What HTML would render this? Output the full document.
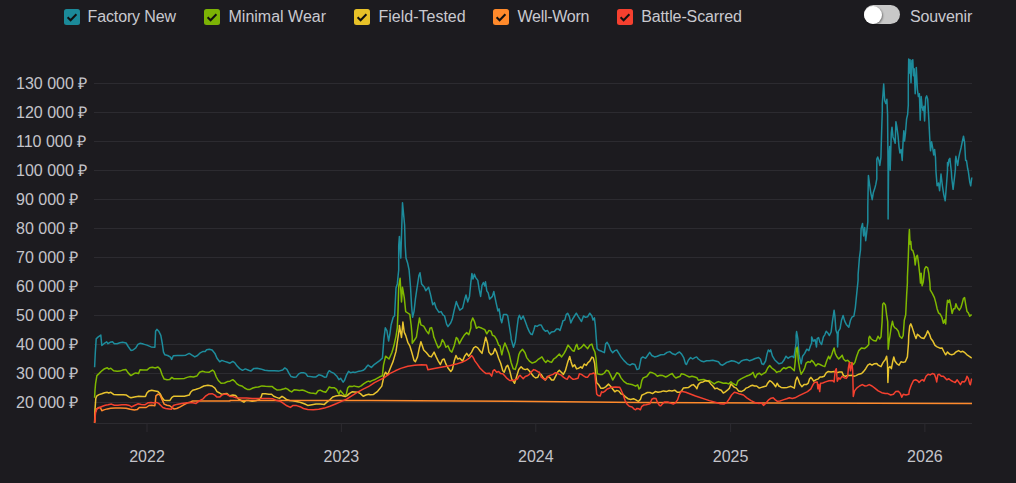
<!DOCTYPE html>
<html><head><meta charset="utf-8"><title>chart</title>
<style>
html,body{margin:0;padding:0;background:#1c1b1f;}
body{width:1016px;height:483px;position:relative;overflow:hidden;font-family:"Liberation Sans",sans-serif;color:#c9c9cf;}
#chart{position:absolute;left:0;top:0;}
.yl{position:absolute;left:16px;font-size:16px;line-height:20px;white-space:nowrap;color:#c4c4ca;}
.xl{position:absolute;top:447px;width:80px;text-align:center;font-size:16px;line-height:20px;color:#c4c4ca;}
.cb{position:absolute;top:9px;width:16px;height:16px;border-radius:2.5px;}
.cb svg{display:block}
.lt{position:absolute;top:7px;font-size:16px;letter-spacing:-0.12px;line-height:20px;white-space:nowrap;color:#c9c9cf;}
.tg{position:absolute;left:864px;top:5px;width:36px;height:19px;border-radius:10px;background:#c8c8c8;}
.kn{position:absolute;left:0;top:0.5px;width:18px;height:18px;border-radius:9px;background:#fff;box-shadow:1px 1px 2px rgba(0,0,0,.4);}
</style></head><body>
<svg id="chart" width="1016" height="483" viewBox="0 0 1016 483"><line x1="94" x2="972" y1="83.5" y2="83.5" stroke="#2c2b30" stroke-width="1"/><line x1="94" x2="972" y1="112.5" y2="112.5" stroke="#2c2b30" stroke-width="1"/><line x1="94" x2="972" y1="141.5" y2="141.5" stroke="#2c2b30" stroke-width="1"/><line x1="94" x2="972" y1="170.5" y2="170.5" stroke="#2c2b30" stroke-width="1"/><line x1="94" x2="972" y1="199.5" y2="199.5" stroke="#2c2b30" stroke-width="1"/><line x1="94" x2="972" y1="228.5" y2="228.5" stroke="#2c2b30" stroke-width="1"/><line x1="94" x2="972" y1="257.5" y2="257.5" stroke="#2c2b30" stroke-width="1"/><line x1="94" x2="972" y1="286.5" y2="286.5" stroke="#2c2b30" stroke-width="1"/><line x1="94" x2="972" y1="315.5" y2="315.5" stroke="#2c2b30" stroke-width="1"/><line x1="94" x2="972" y1="344.5" y2="344.5" stroke="#2c2b30" stroke-width="1"/><line x1="94" x2="972" y1="373.5" y2="373.5" stroke="#2c2b30" stroke-width="1"/><line x1="94" x2="972" y1="402.5" y2="402.5" stroke="#2c2b30" stroke-width="1"/><line x1="94.5" x2="972" y1="423.5" y2="423.5" stroke="#2c2b30" stroke-width="1"/><line x1="147" x2="147" y1="423" y2="432" stroke="#2c2b30" stroke-width="1"/><line x1="341.4" x2="341.4" y1="423" y2="432" stroke="#2c2b30" stroke-width="1"/><line x1="535.8" x2="535.8" y1="423" y2="432" stroke="#2c2b30" stroke-width="1"/><line x1="730.6" x2="730.6" y1="423" y2="432" stroke="#2c2b30" stroke-width="1"/><line x1="924.9" x2="924.9" y1="423" y2="432" stroke="#2c2b30" stroke-width="1"/><path d="M94.6 367.3 L95.3 352.8 L96.2 338.9 L98.3 336.8 L100.8 335.0 L101.8 345.5 L103.9 343.7 L106.7 341.9 L108.0 343.7 L110.1 342.3 L112.5 341.7 L114.3 343.7 L117.1 343.7 L119.8 342.8 L122.6 342.3 L126.1 343.0 L128.2 346.5 L130.9 350.4 L133.0 350.0 L135.8 347.9 L137.9 344.4 L140.0 343.3 L143.4 344.1 L146.9 345.1 L151.1 346.9 L154.9 347.2 L155.6 331.2 L156.9 329.4 L158.7 331.2 L160.8 335.4 L162.2 343.0 L163.5 352.1 L164.9 354.8 L167.7 355.5 L170.5 357.2 L171.6 359.4 L173.3 355.8 L177.4 355.5 L182.3 355.5 L185.7 355.2 L189.2 353.4 L192.0 355.2 L194.8 356.9 L197.5 355.5 L200.3 352.8 L203.1 351.4 L205.2 351.4 L206.6 349.7 L209.3 349.3 L212.1 350.0 L214.9 353.4 L217.0 358.3 L219.7 361.8 L221.8 360.4 L224.6 361.4 L227.4 362.2 L230.0 363.2 L232.8 361.4 L234.9 362.8 L236.9 365.8 L239.7 368.6 L242.5 370.3 L245.3 368.9 L248.0 370.0 L250.8 371.1 L253.6 368.6 L257.1 368.3 L260.5 368.9 L264.7 370.3 L268.9 370.7 L274.4 370.7 L278.6 371.1 L282.7 370.0 L284.8 367.9 L286.9 369.3 L289.0 373.4 L291.1 376.6 L293.8 377.2 L296.3 376.9 L298.7 373.9 L300.8 372.8 L303.5 372.8 L305.6 373.4 L307.7 376.2 L310.5 376.6 L313.3 376.9 L316.0 376.9 L318.8 374.8 L321.6 375.5 L324.4 377.2 L326.4 376.9 L327.8 372.8 L329.2 370.7 L331.3 372.1 L334.1 373.4 L336.8 376.2 L338.9 379.7 L340.7 378.3 L343.1 382.2 L344.5 380.4 L346.6 374.8 L348.6 371.4 L350.7 372.8 L352.8 372.1 L354.9 372.5 L357.7 371.6 L360.4 371.1 L363.2 370.3 L365.3 368.6 L366.7 366.5 L368.1 365.1 L370.0 366.5 L371.4 367.4 L374.5 364.3 L379.7 360.6 L382.4 358.1 L383.9 338.9 L385.3 327.8 L386.9 330.6 L388.6 341.0 L390.0 333.3 L391.1 325.0 L393.2 317.2 L394.6 315.8 L396.0 288.0 L397.3 283.9 L398.7 270.0 L398.7 245.7 L399.4 236.4 L400.8 258.1 L402.5 202.8 L404.6 225.0 L405.2 245.7 L406.0 258.1 L407.7 263.3 L409.1 270.0 L410.5 286.7 L411.6 306.1 L412.6 317.2 L414.0 311.6 L415.4 299.1 L416.8 289.4 L418.9 275.6 L420.0 272.8 L421.6 283.9 L424.4 287.3 L425.8 290.8 L428.6 287.3 L430.6 295.0 L432.7 304.7 L434.4 302.6 L436.2 308.2 L439.0 312.3 L441.1 311.6 L443.1 315.1 L444.5 315.8 L446.6 324.1 L448.0 326.6 L450.8 322.7 L452.2 319.3 L454.2 310.2 L456.3 301.6 L457.7 305.4 L459.8 310.2 L462.6 308.2 L464.6 299.8 L466.0 295.0 L467.7 301.9 L469.5 296.4 L470.9 281.8 L471.9 273.5 L473.0 279.0 L474.4 274.2 L475.7 277.6 L477.8 280.4 L479.2 289.4 L480.6 296.4 L482.0 285.3 L483.4 282.5 L484.8 286.0 L485.5 281.8 L486.8 290.8 L488.2 292.9 L489.6 299.1 L492.4 296.4 L493.8 291.5 L495.9 301.9 L497.9 310.9 L499.1 308.9 L500.7 319.3 L501.8 322.7 L503.5 314.4 L506.3 314.4 L507.7 315.8 L509.7 328.3 L511.1 337.0 L511.1 338.9 L513.5 347.2 L515.3 341.7 L517.4 325.0 L517.4 325.0 L518.3 318.0 L519.4 315.3 L521.1 319.4 L523.2 316.0 L525.3 321.5 L527.3 327.1 L529.4 331.9 L530.8 334.0 L532.2 334.7 L533.9 329.8 L535.0 325.7 L537.1 326.4 L539.1 325.0 L541.2 325.0 L543.3 329.1 L545.4 331.2 L547.5 330.5 L549.5 334.0 L551.6 331.9 L554.4 331.6 L556.5 329.1 L558.6 329.1 L560.0 330.5 L562.0 324.3 L563.0 320.8 L564.8 320.1 L566.2 314.6 L567.6 313.2 L569.4 316.7 L570.8 322.9 L572.4 319.4 L574.5 316.0 L576.3 313.2 L578.3 316.7 L580.1 319.4 L581.5 321.5 L583.5 316.0 L585.6 317.3 L587.7 316.7 L589.8 313.2 L591.9 316.0 L593.0 320.1 L594.4 317.8 L595.3 325.0 L596.3 338.9 L597.1 348.6 L598.8 350.2 L601.6 351.3 L604.4 352.7 L605.7 343.7 L607.1 342.3 L608.8 345.1 L610.6 350.0 L612.7 352.7 L614.8 350.6 L616.8 350.0 L618.9 353.4 L621.0 356.9 L623.8 360.4 L627.2 363.8 L630.0 365.2 L632.1 363.8 L634.9 364.5 L637.0 369.6 L639.0 368.9 L641.1 358.3 L642.8 356.9 L645.6 358.3 L647.6 355.5 L649.7 352.4 L651.8 355.5 L654.6 356.9 L657.3 356.2 L660.8 354.8 L664.3 354.4 L667.1 352.4 L669.8 351.6 L672.6 353.8 L675.4 354.8 L677.5 353.0 L679.5 352.0 L681.6 354.1 L683.7 357.6 L685.5 363.8 L686.5 364.5 L688.3 360.3 L690.6 357.6 L692.7 359.0 L694.8 357.6 L696.6 356.9 L698.3 359.0 L701.1 361.0 L703.8 361.7 L706.6 360.8 L709.4 360.8 L712.8 360.3 L715.6 361.0 L718.4 361.7 L720.5 364.5 L722.6 365.2 L724.6 363.8 L726.7 362.4 L728.8 361.7 L731.6 360.8 L734.4 361.3 L737.1 362.4 L738.8 363.5 L741.3 361.0 L744.1 359.9 L746.8 359.4 L749.6 360.8 L752.4 359.7 L755.2 358.5 L758.6 357.6 L760.4 359.0 L761.8 363.8 L763.5 364.5 L765.6 361.0 L767.0 354.1 L768.3 349.9 L769.7 351.6 L770.7 349.9 L772.5 356.2 L774.6 359.7 L776.7 361.7 L778.8 363.8 L780.0 363.5 L781.8 363.1 L783.9 360.3 L786.0 356.2 L788.0 358.3 L790.1 356.9 L792.2 356.2 L793.9 357.6 L795.0 350.6 L796.1 343.0 L796.1 335.5 L796.6 331.6 L797.8 338.3 L798.4 347.0 L799.1 355.5 L801.2 363.8 L802.6 356.2 L804.7 353.4 L806.8 349.2 L808.9 350.6 L810.2 346.5 L811.6 343.0 L811.6 343.8 L811.6 336.9 L813.3 341.1 L815.1 339.7 L816.5 347.0 L817.2 338.3 L818.6 337.6 L820.0 342.4 L821.6 344.5 L823.4 336.9 L824.8 334.8 L826.2 331.3 L827.6 332.7 L829.4 335.5 L831.1 332.0 L832.4 321.6 L834.1 310.2 L834.9 316.1 L835.9 330.0 L837.3 334.1 L837.6 347.0 L838.3 331.3 L840.1 328.6 L841.5 320.2 L843.1 315.4 L844.6 320.9 L846.3 324.4 L848.8 327.2 L850.5 320.2 L851.9 317.2 L853.9 316.1 L855.3 307.8 L856.7 293.9 L858.1 280.0 L858.1 274.7 L859.4 258.1 L860.5 249.8 L861.1 228.9 L862.5 223.4 L863.6 235.9 L864.7 227.6 L865.7 240.7 L866.6 233.1 L867.8 222.0 L867.8 206.6 L868.4 175.4 L869.4 183.0 L870.8 192.8 L872.2 199.7 L873.3 192.8 L874.7 188.6 L875.8 184.4 L876.8 178.9 L876.8 159.1 L877.7 157.0 L878.9 160.5 L879.8 165.4 L880.9 157.7 L881.6 132.8 L882.3 110.6 L882.3 103.5 L883.7 84.1 L884.7 100.7 L885.8 103.5 L886.9 99.3 L887.6 115.0 L887.6 118.9 L888.1 172.0 L888.1 219.1 L888.6 165.0 L888.8 160.5 L889.7 146.6 L890.2 170.2 L891.3 132.8 L892.0 127.2 L893.0 136.9 L894.1 139.7 L895.2 143.2 L895.9 121.7 L896.9 127.2 L898.0 135.5 L899.0 146.6 L899.9 152.9 L901.1 149.4 L902.2 160.5 L903.1 141.1 L903.8 130.7 L904.5 141.1 L905.5 132.8 L906.6 118.9 L907.6 114.7 L908.3 105.0 L908.3 106.3 L908.3 82.7 L908.7 59.1 L909.4 73.0 L910.1 59.8 L911.0 82.7 L911.9 60.5 L912.8 59.8 L913.5 75.8 L914.2 68.8 L915.2 93.8 L916.3 67.4 L917.4 89.6 L918.4 96.6 L919.4 93.8 L920.2 120.3 L921.2 96.6 L922.1 106.4 L923.0 110.6 L923.9 106.3 L924.6 121.0 L925.7 98.0 L926.7 95.9 L927.7 99.3 L928.8 118.9 L929.9 141.1 L930.5 150.8 L931.6 141.8 L932.7 148.0 L933.7 155.0 L934.6 149.4 L935.5 157.7 L936.0 172.0 L936.0 171.9 L937.1 185.8 L938.5 183.0 L939.6 190.7 L941.0 174.0 L942.4 185.8 L943.8 194.8 L945.2 200.8 L946.6 183.0 L947.5 170.6 L947.5 162.6 L948.0 166.1 L948.9 159.8 L949.9 158.4 L950.7 166.1 L951.4 172.0 L951.7 177.5 L953.1 189.3 L954.5 177.5 L955.4 169.2 L955.4 160.5 L955.9 156.3 L956.6 160.5 L957.7 165.4 L958.6 158.4 L959.6 153.6 L961.0 148.0 L962.4 141.1 L963.5 136.2 L964.6 142.5 L965.6 160.5 L966.5 160.5 L967.7 168.8 L968.3 171.2 L969.7 181.7 L970.7 185.8 L971.8 177.5" fill="none" stroke="#1d8c9c" stroke-width="1.5" stroke-linejoin="round" stroke-linecap="butt"/><path d="M94.6 397.8 L95.0 390.2 L95.6 383.3 L96.9 375.6 L99.0 373.6 L101.8 370.8 L104.6 368.7 L107.3 367.7 L108.7 369.1 L110.8 368.3 L113.6 370.8 L117.1 371.2 L119.8 371.1 L122.6 370.1 L125.8 369.4 L128.2 372.9 L130.9 375.6 L133.7 373.8 L135.8 372.9 L138.6 373.6 L140.0 369.7 L143.4 370.1 L146.9 370.1 L149.7 367.7 L152.4 367.3 L155.2 368.0 L158.0 367.0 L160.1 369.1 L162.2 375.0 L164.2 379.1 L167.0 379.8 L169.8 379.4 L171.9 377.4 L173.9 378.8 L178.8 378.8 L184.4 378.4 L187.1 377.4 L189.9 376.6 L193.4 377.0 L196.8 376.1 L199.6 372.2 L202.4 371.2 L205.2 371.9 L209.3 372.2 L212.5 370.1 L214.2 371.5 L216.3 377.0 L218.3 380.5 L221.1 383.3 L224.6 383.0 L227.4 381.6 L230.0 381.2 L232.8 379.7 L234.9 381.4 L236.9 383.9 L239.0 385.2 L241.8 385.9 L244.6 388.0 L247.3 389.4 L250.1 389.4 L252.9 388.0 L255.7 387.3 L258.4 387.0 L261.9 385.9 L265.4 386.3 L268.9 386.6 L272.3 386.6 L274.4 388.3 L277.2 390.1 L280.6 389.7 L283.4 389.1 L285.5 388.3 L287.6 389.1 L289.7 390.8 L291.7 391.9 L294.1 389.7 L296.6 390.1 L299.4 390.5 L302.2 390.1 L304.9 390.8 L307.7 392.2 L310.5 392.9 L313.3 393.3 L316.0 393.8 L318.1 390.8 L320.2 390.1 L323.0 391.5 L325.7 392.2 L327.8 389.4 L329.2 387.0 L331.3 387.7 L334.1 387.7 L336.6 389.4 L338.9 394.3 L340.3 390.5 L342.4 392.9 L344.5 395.6 L346.3 394.3 L347.7 388.0 L349.3 386.3 L352.1 386.6 L354.2 385.9 L356.3 386.6 L359.0 386.9 L361.1 385.9 L363.9 383.6 L366.7 381.8 L368.8 381.1 L370.0 381.8 L371.4 380.9 L375.6 379.2 L379.7 376.8 L382.4 375.7 L383.5 365.2 L385.6 356.2 L389.0 359.0 L391.8 352.8 L393.9 345.8 L396.0 336.1 L397.3 327.8 L398.0 311.6 L398.7 286.7 L400.1 278.3 L401.5 301.9 L402.5 287.3 L404.3 297.8 L405.7 311.6 L407.8 313.0 L409.8 314.4 L411.2 325.5 L412.2 337.0 L412.2 343.3 L414.5 340.0 L416.4 337.2 L417.8 328.0 L419.5 317.9 L420.9 324.8 L423.7 326.2 L426.5 331.1 L428.6 333.8 L430.0 328.3 L431.6 327.6 L433.0 332.4 L433.8 337.0 L434.1 337.5 L436.2 343.0 L438.3 347.9 L440.4 345.8 L442.4 339.6 L444.1 342.3 L445.9 347.2 L448.0 345.8 L450.1 350.7 L451.9 352.1 L454.2 345.8 L456.3 337.5 L457.7 338.9 L459.4 343.7 L461.9 338.9 L464.6 334.7 L466.7 332.6 L468.8 334.7 L470.9 327.8 L470.9 322.7 L472.7 317.9 L474.4 321.3 L476.4 328.3 L478.5 326.9 L482.0 328.3 L484.8 329.7 L486.8 333.8 L488.9 330.4 L491.0 331.1 L492.4 335.2 L494.5 336.1 L496.6 339.6 L498.6 345.1 L500.0 345.8 L501.8 354.8 L503.5 347.2 L504.9 343.0 L507.0 347.9 L509.0 353.4 L511.1 362.5 L513.2 368.7 L515.3 369.4 L517.4 362.5 L518.8 354.8 L520.0 352.1 L522.5 349.3 L525.0 352.7 L526.7 357.6 L529.4 361.1 L532.2 363.1 L535.7 361.7 L537.8 359.7 L539.8 358.3 L541.9 356.9 L544.0 360.4 L545.8 362.4 L547.5 360.4 L549.5 361.7 L551.6 362.4 L553.7 359.0 L555.8 357.6 L557.9 355.5 L559.3 354.1 L561.6 356.9 L564.1 353.4 L566.2 349.3 L568.0 345.1 L570.4 347.9 L572.4 350.6 L574.1 351.3 L575.9 345.8 L576.9 344.4 L578.3 349.3 L580.8 347.9 L582.8 345.8 L583.8 344.4 L585.6 346.5 L587.7 348.6 L589.8 345.1 L591.9 344.1 L593.3 348.6 L594.9 352.0 L596.0 358.3 L596.7 367.0 L597.4 373.7 L600.2 374.4 L602.3 374.4 L604.4 373.0 L606.4 370.3 L608.5 371.0 L610.6 375.1 L612.7 380.0 L614.8 376.5 L616.8 372.8 L618.9 373.7 L621.0 377.9 L623.8 381.4 L626.6 383.4 L629.3 384.1 L632.8 384.8 L635.6 386.2 L637.7 384.8 L639.0 389.0 L640.4 387.6 L641.8 380.7 L643.2 377.9 L646.7 376.5 L650.0 372.3 L652.5 372.8 L655.3 374.2 L657.3 376.3 L660.1 375.2 L662.9 375.6 L665.7 377.0 L667.8 376.0 L669.8 374.6 L672.2 373.5 L674.0 376.3 L675.8 378.0 L678.2 377.0 L680.2 376.3 L681.3 373.8 L683.7 374.2 L686.5 375.6 L689.3 377.0 L692.0 376.3 L694.8 377.0 L696.9 377.7 L698.3 380.2 L701.1 379.8 L703.8 379.4 L706.6 381.2 L709.4 380.5 L712.2 382.5 L714.2 383.9 L716.3 382.5 L718.4 381.6 L721.2 382.5 L723.3 383.2 L726.0 383.0 L728.8 383.9 L730.9 381.9 L732.3 383.2 L735.0 384.6 L736.4 385.3 L737.8 381.2 L740.6 379.1 L743.4 377.7 L746.1 376.3 L748.9 375.2 L751.0 374.2 L753.1 372.4 L754.5 376.3 L755.4 377.7 L757.2 374.2 L759.3 373.2 L761.4 374.9 L763.5 373.5 L765.6 372.4 L767.7 368.0 L769.7 365.5 L771.8 368.0 L774.6 370.1 L776.7 372.4 L778.8 371.4 L780.0 371.4 L781.8 369.4 L783.9 367.7 L786.0 368.7 L788.0 367.3 L790.1 366.9 L792.2 368.7 L794.3 370.8 L795.4 359.7 L796.4 348.6 L797.3 347.2 L798.4 361.0 L799.8 369.4 L801.2 374.2 L803.3 370.8 L804.7 368.0 L806.1 363.1 L808.2 361.7 L810.2 362.4 L811.6 360.3 L813.7 362.4 L815.8 365.9 L817.9 363.8 L820.0 364.5 L822.7 365.9 L824.8 366.6 L826.9 360.3 L828.6 356.2 L829.9 359.0 L831.7 354.8 L833.1 350.6 L834.1 347.9 L835.2 353.4 L836.6 356.2 L838.7 359.0 L840.8 356.9 L842.2 355.2 L843.5 359.0 L845.6 361.0 L847.7 360.3 L849.8 362.4 L851.9 363.1 L853.3 364.5 L854.9 362.4 L856.7 356.2 L858.8 350.6 L861.6 347.9 L864.4 348.6 L866.4 347.2 L868.8 344.4 L868.8 338.3 L869.6 336.2 L871.3 339.0 L873.4 340.4 L876.1 341.1 L878.0 336.2 L879.6 339.0 L881.0 336.9 L882.1 321.6 L882.7 304.3 L883.8 302.9 L885.4 305.0 L886.6 314.7 L887.7 321.6 L888.2 349.2 L889.1 341.1 L890.0 335.5 L891.4 325.8 L892.4 321.3 L893.5 325.8 L894.9 327.9 L896.3 328.6 L898.3 331.3 L899.7 336.2 L901.8 338.3 L903.2 335.5 L904.3 320.2 L905.7 314.7 L906.7 293.9 L907.4 282.8 L907.4 277.5 L908.3 256.7 L909.0 235.9 L909.4 229.6 L910.1 244.2 L910.8 241.4 L911.5 249.8 L912.8 250.4 L914.2 255.3 L915.2 265.0 L916.3 256.7 L917.4 255.3 L918.4 262.2 L919.8 274.7 L920.5 283.1 L921.2 273.3 L922.1 285.8 L923.3 281.7 L924.6 269.2 L926.0 266.7 L927.7 267.8 L928.8 273.3 L929.9 283.1 L930.2 289.9 L932.3 293.4 L934.4 297.6 L935.7 302.4 L937.1 308.7 L938.5 312.8 L940.2 314.2 L942.0 317.7 L943.4 323.2 L944.8 319.8 L945.7 323.9 L946.6 308.0 L947.5 300.3 L948.6 302.4 L949.6 299.9 L950.7 305.2 L952.1 313.5 L953.5 308.7 L954.9 308.7 L955.9 303.8 L957.2 307.3 L959.3 310.1 L961.0 307.3 L962.4 302.4 L963.5 298.3 L964.6 297.6 L965.6 303.8 L967.0 311.4 L968.3 312.8 L969.7 316.3 L971.1 314.9 L971.8 314.9" fill="none" stroke="#7fb800" stroke-width="1.5" stroke-linejoin="round" stroke-linecap="butt"/><path d="M94.6 422.8 L95.0 409.6 L95.8 398.5 L96.9 395.8 L99.0 394.6 L101.8 393.7 L104.6 392.7 L107.3 392.3 L108.7 393.0 L110.8 392.3 L113.6 394.4 L117.8 394.8 L123.3 394.8 L126.4 395.1 L128.9 396.9 L130.9 397.8 L134.4 396.9 L138.6 396.2 L142.7 396.4 L145.5 396.4 L146.9 393.0 L149.0 390.9 L151.7 390.2 L155.2 390.9 L158.0 391.6 L160.1 393.7 L162.2 397.8 L164.2 400.2 L167.0 400.6 L169.8 400.6 L171.9 397.4 L173.9 396.2 L178.8 396.2 L184.4 396.2 L189.2 395.1 L190.6 392.3 L192.7 390.2 L195.5 389.5 L199.6 388.1 L203.8 386.0 L207.9 385.3 L212.1 386.0 L214.9 388.1 L217.0 391.6 L219.7 393.0 L221.8 394.4 L224.6 393.7 L226.7 393.4 L228.8 395.1 L230.0 395.8 L232.8 395.0 L235.6 395.6 L238.3 398.8 L241.1 400.5 L243.9 402.2 L246.0 400.5 L248.7 400.5 L252.2 401.2 L255.7 400.8 L259.1 399.8 L261.2 397.0 L262.2 393.8 L265.4 393.8 L268.9 394.3 L271.6 394.3 L273.7 396.3 L276.5 397.4 L279.3 398.4 L282.0 396.3 L284.1 397.7 L286.9 399.8 L289.7 400.5 L292.4 400.8 L295.2 401.2 L298.7 401.9 L302.2 403.0 L304.9 404.0 L307.7 405.4 L311.9 404.7 L316.0 404.0 L320.2 404.0 L324.4 404.4 L327.1 401.9 L329.9 399.8 L332.7 397.0 L335.5 396.1 L338.9 395.6 L341.0 395.2 L343.1 396.1 L345.2 396.6 L347.2 395.6 L349.3 393.6 L352.1 391.8 L354.9 391.9 L357.7 392.2 L360.4 393.6 L363.2 396.3 L366.0 395.0 L368.8 394.3 L370.0 394.7 L373.5 394.4 L377.6 391.3 L381.8 386.1 L382.1 384.7 L384.2 375.0 L385.6 372.2 L387.6 375.0 L390.4 368.0 L393.2 361.1 L396.0 351.4 L398.0 337.5 L399.4 327.8 L399.4 325.5 L401.5 337.5 L402.9 322.0 L404.3 332.4 L405.7 335.4 L407.8 342.3 L409.8 345.8 L411.9 352.8 L414.0 360.4 L415.4 361.8 L417.5 356.9 L419.5 347.2 L420.9 341.7 L422.3 345.8 L423.7 350.0 L426.5 352.8 L429.3 356.2 L431.3 356.9 L434.1 352.1 L436.2 356.9 L438.3 361.1 L440.4 364.5 L442.4 359.7 L444.1 359.0 L445.9 363.9 L448.0 368.0 L450.8 371.5 L452.4 369.4 L454.2 361.1 L456.0 355.5 L457.7 359.0 L459.8 358.3 L462.6 361.1 L464.6 356.2 L466.7 353.4 L468.8 356.2 L471.6 352.1 L473.7 347.9 L475.7 346.5 L477.8 347.9 L479.9 350.7 L482.0 353.4 L484.1 344.4 L485.7 337.2 L487.5 343.0 L488.9 352.1 L491.0 354.8 L493.1 353.4 L494.9 348.6 L496.6 352.1 L498.6 358.3 L500.7 363.2 L502.8 370.8 L504.2 372.2 L506.3 366.6 L507.7 365.2 L509.7 370.8 L511.8 379.1 L514.6 383.3 L516.7 376.3 L518.8 369.4 L520.0 368.0 L521.1 366.8 L523.2 368.9 L525.3 369.6 L527.3 368.9 L529.4 371.0 L531.5 373.7 L533.6 376.5 L535.7 377.9 L537.8 377.2 L539.4 373.7 L541.2 374.4 L543.3 377.9 L545.4 380.0 L547.5 376.5 L549.5 377.2 L551.6 380.0 L553.7 380.0 L555.8 375.8 L557.9 371.7 L559.3 370.3 L561.3 372.3 L563.4 374.4 L565.5 370.3 L567.6 362.6 L569.7 356.4 L571.1 361.9 L572.7 366.8 L574.5 364.7 L576.6 368.9 L578.7 368.2 L580.8 366.8 L582.2 368.2 L584.2 364.0 L586.3 365.4 L588.0 362.6 L589.8 361.2 L591.9 357.1 L593.3 357.8 L594.6 363.3 L595.7 374.4 L596.7 382.8 L598.8 384.8 L600.9 388.3 L603.0 388.3 L605.7 386.9 L608.5 384.1 L610.6 386.2 L612.7 389.0 L614.8 391.8 L616.8 390.4 L618.9 391.1 L621.0 393.9 L623.1 394.5 L625.2 396.6 L627.9 398.7 L630.7 399.4 L633.5 398.7 L636.3 400.1 L638.3 401.5 L640.4 399.4 L641.8 395.2 L644.6 393.9 L647.4 392.5 L650.0 392.5 L652.5 393.6 L655.3 391.6 L658.0 392.3 L660.8 391.8 L663.6 390.9 L666.4 391.6 L669.1 390.5 L671.9 390.9 L674.7 390.2 L677.5 392.3 L679.5 392.3 L681.6 390.9 L683.3 388.1 L685.8 387.7 L688.6 387.4 L691.3 385.3 L693.4 384.6 L695.5 386.7 L696.9 388.8 L698.3 384.6 L700.4 382.5 L703.1 381.9 L705.9 380.5 L708.7 381.2 L710.8 383.9 L712.8 386.0 L714.9 388.8 L717.0 388.1 L719.1 389.5 L721.2 390.2 L723.3 393.0 L725.3 391.8 L727.4 390.2 L729.5 388.1 L730.9 383.9 L732.3 385.3 L734.4 387.4 L736.4 388.1 L738.5 390.9 L741.3 391.6 L744.1 390.2 L746.1 388.1 L748.2 387.4 L750.3 386.0 L752.4 385.3 L754.5 386.0 L756.6 386.0 L759.3 388.1 L761.4 387.4 L763.5 386.7 L766.3 386.0 L767.7 383.2 L769.7 380.7 L771.8 381.9 L773.9 384.3 L775.7 386.7 L777.1 383.2 L778.8 386.0 L780.0 386.7 L781.1 387.4 L783.9 387.7 L787.3 387.4 L790.8 386.3 L792.9 387.4 L794.3 388.1 L795.7 380.5 L797.1 377.0 L798.4 379.8 L799.8 383.9 L801.9 386.7 L804.0 384.6 L806.4 384.6 L808.2 383.2 L809.5 379.1 L810.9 377.4 L812.3 379.1 L813.7 381.2 L815.8 379.8 L817.9 379.1 L820.0 377.0 L822.0 377.0 L824.1 376.3 L826.2 372.8 L828.3 371.4 L831.1 372.1 L833.8 371.4 L836.6 372.8 L839.4 372.1 L841.9 371.9 L843.5 375.6 L845.6 376.3 L847.7 375.2 L849.8 375.6 L851.9 375.2 L853.9 376.3 L856.0 375.6 L858.8 374.2 L861.6 373.5 L863.7 371.4 L865.7 368.7 L867.8 365.2 L869.9 363.8 L872.0 365.2 L874.1 363.8 L876.8 363.5 L878.2 365.2 L881.0 366.6 L883.1 362.4 L885.2 359.7 L886.6 356.2 L887.5 363.8 L887.9 382.5 L888.6 368.0 L890.0 366.6 L891.4 368.7 L892.8 361.0 L893.8 356.9 L894.9 361.0 L897.0 363.8 L899.0 365.2 L901.1 361.7 L903.2 362.4 L905.3 361.7 L907.4 356.9 L908.5 343.0 L908.7 335.7 L909.7 326.0 L910.8 323.9 L912.2 327.4 L913.5 331.6 L914.9 335.7 L916.0 338.5 L917.4 334.3 L919.1 335.7 L921.2 337.8 L923.9 338.5 L926.0 335.0 L927.7 330.9 L929.5 334.3 L930.9 338.5 L933.0 341.3 L935.0 345.4 L937.1 346.8 L939.9 348.2 L942.0 347.9 L944.1 352.0 L945.7 354.8 L947.5 352.0 L949.6 354.1 L951.7 354.8 L953.8 354.1 L955.9 352.0 L958.6 350.6 L960.7 352.0 L962.8 351.3 L964.9 352.7 L967.0 354.8 L969.0 356.2 L971.1 357.6 L971.8 358.0" fill="none" stroke="#e8c32e" stroke-width="1.5" stroke-linejoin="round" stroke-linecap="butt"/><path d="M94.6 422.8 L95.3 412.4 L96.7 408.9 L98.6 407.5 L100.4 407.5 L101.8 410.7 L103.9 409.9 L107.3 408.9 L110.8 408.2 L115.0 408.0 L120.5 408.0 L126.1 408.2 L130.2 409.3 L134.4 409.9 L137.2 409.6 L139.3 407.5 L142.7 407.5 L146.2 407.5 L149.0 405.5 L151.7 405.2 L154.9 405.7 L155.9 395.8 L158.0 394.1 L160.1 395.1 L162.2 399.9 L164.2 404.1 L167.0 405.2 L169.8 405.7 L171.9 407.5 L173.9 408.9 L176.7 408.5 L180.2 406.9 L183.7 404.8 L187.1 403.0 L190.6 402.0 L192.7 400.9 L230.0 400.9 L230.0 400.5 L370.0 400.5 L510.0 401.2 L640.0 402.6 L770.0 403.1 L972.0 403.4" fill="none" stroke="#ff8a2b" stroke-width="1.5" stroke-linejoin="round" stroke-linecap="butt"/><path d="M94.6 422.8 L95.6 412.4 L96.9 408.9 L99.7 407.5 L102.5 406.2 L105.3 405.2 L108.0 404.8 L111.5 404.1 L114.3 405.2 L117.8 405.2 L121.9 404.8 L126.1 404.8 L129.5 405.5 L131.6 406.9 L134.4 405.5 L137.9 403.8 L141.3 404.4 L144.8 404.8 L148.3 402.7 L151.1 402.4 L154.5 403.1 L156.6 402.4 L158.7 403.4 L160.8 405.5 L162.8 407.5 L165.6 408.5 L169.1 408.9 L171.6 409.2 L173.3 405.5 L176.7 404.4 L181.6 403.4 L187.1 402.7 L192.7 402.7 L196.1 403.4 L199.6 400.6 L203.1 398.8 L205.9 395.8 L208.6 394.1 L212.1 393.7 L214.9 395.1 L217.0 397.1 L219.7 397.1 L221.8 395.1 L224.6 394.1 L227.4 394.6 L230.0 396.4 L232.8 396.6 L236.2 397.7 L241.1 398.1 L246.7 398.1 L252.2 398.4 L257.8 398.4 L263.3 398.4 L268.9 398.4 L273.0 398.8 L275.8 400.2 L280.0 401.2 L283.4 403.3 L286.9 405.8 L290.4 407.4 L293.1 405.4 L296.6 405.6 L300.1 406.7 L303.5 408.5 L307.7 409.5 L313.3 409.8 L318.8 409.2 L324.4 408.1 L329.9 406.3 L335.5 404.0 L341.0 401.6 L346.6 399.1 L352.1 395.6 L357.7 392.2 L363.2 389.1 L368.8 386.3 L370.0 385.7 L374.5 382.6 L382.8 378.4 L384.2 377.7 L389.7 373.6 L395.3 370.8 L400.8 368.4 L407.8 366.3 L414.7 365.2 L421.6 364.8 L426.5 365.0 L427.9 369.7 L435.5 368.3 L442.4 366.9 L449.4 365.7 L456.3 364.1 L461.9 362.2 L466.0 360.4 L469.5 358.0 L471.6 355.5 L473.0 357.2 L475.0 361.1 L477.1 363.9 L479.9 368.0 L483.4 371.5 L486.1 373.6 L489.6 373.3 L491.7 376.1 L493.1 370.8 L494.5 369.7 L496.6 372.2 L498.6 371.5 L500.7 373.6 L502.8 373.8 L504.9 376.1 L507.0 378.4 L509.7 380.5 L513.2 380.5 L515.3 379.8 L517.4 379.1 L518.8 376.3 L520.0 375.2 L521.1 376.5 L523.2 378.6 L525.3 376.5 L527.3 375.8 L529.4 374.4 L531.5 371.7 L533.6 369.6 L535.7 370.3 L537.8 371.7 L539.4 372.3 L541.2 377.2 L543.3 378.6 L545.0 380.0 L546.8 377.9 L548.9 375.8 L550.9 375.1 L553.0 374.4 L555.1 372.8 L557.2 373.0 L559.3 374.4 L561.3 375.1 L563.4 377.2 L565.5 378.6 L567.2 379.3 L569.0 375.8 L571.1 377.9 L573.1 379.3 L575.2 378.9 L578.0 378.3 L579.4 373.7 L581.5 374.4 L583.5 375.8 L585.6 377.2 L587.7 377.2 L589.8 374.1 L591.9 373.7 L593.9 373.0 L594.9 374.4 L595.7 382.8 L596.7 393.9 L598.1 395.5 L600.2 395.9 L601.6 391.8 L603.0 392.5 L605.0 391.1 L607.1 389.0 L609.2 388.3 L611.3 387.2 L615.5 386.9 L619.6 387.2 L621.0 389.7 L623.1 394.5 L625.2 400.8 L627.2 404.3 L629.3 406.3 L632.1 407.0 L634.2 409.1 L635.6 409.8 L637.0 408.4 L639.0 408.8 L640.4 409.8 L641.8 406.3 L643.9 405.0 L646.0 404.7 L650.0 403.8 L651.8 399.2 L653.9 398.2 L656.0 398.5 L657.3 402.0 L659.4 405.4 L660.8 405.7 L662.2 404.1 L664.3 402.0 L667.8 402.0 L671.2 403.4 L673.3 404.1 L675.4 402.9 L677.5 399.9 L679.5 394.3 L681.3 391.3 L685.8 392.3 L695.5 396.0 L709.4 400.6 L720.5 403.8 L723.9 404.1 L726.7 402.7 L729.5 398.5 L731.6 395.0 L734.4 392.3 L737.1 393.0 L739.9 394.1 L743.4 395.0 L746.8 397.8 L751.0 400.6 L755.2 402.7 L759.3 403.4 L761.4 402.7 L763.5 405.4 L765.6 403.4 L768.3 400.2 L771.1 398.2 L773.2 397.8 L775.3 399.9 L777.4 401.3 L780.0 401.0 L781.1 400.6 L783.9 399.6 L786.7 398.8 L789.4 397.8 L792.2 398.5 L795.0 397.8 L799.1 395.7 L803.3 393.6 L807.5 391.6 L810.9 388.8 L813.0 384.6 L814.4 382.5 L817.2 381.9 L817.9 388.8 L818.8 384.6 L819.7 391.6 L820.6 383.2 L822.7 383.0 L825.5 381.9 L829.0 380.7 L832.4 380.5 L834.1 381.9 L835.2 370.8 L836.3 368.7 L837.3 381.2 L838.7 377.7 L840.1 379.1 L842.2 376.3 L844.2 377.7 L846.3 378.4 L847.7 376.3 L848.4 368.0 L849.4 362.4 L850.5 370.8 L851.9 362.4 L852.7 370.8 L853.3 396.4 L854.6 390.9 L856.7 388.1 L859.5 386.0 L862.3 384.6 L865.0 386.0 L867.1 385.7 L869.2 384.6 L872.0 386.0 L874.8 388.1 L878.2 390.9 L881.7 392.7 L885.2 393.6 L887.9 393.6 L890.7 395.0 L893.5 394.3 L895.6 391.6 L898.3 391.3 L900.4 393.6 L901.8 397.1 L903.2 394.3 L906.0 395.0 L908.8 394.3 L909.4 390.2 L911.5 384.6 L913.5 380.5 L915.6 379.8 L917.7 380.7 L919.1 382.5 L921.2 380.2 L923.0 379.8 L923.9 381.2 L926.0 376.3 L928.1 374.2 L930.2 374.9 L932.3 373.5 L934.4 374.2 L935.7 377.7 L936.7 381.9 L937.8 374.9 L939.2 374.2 L941.3 376.3 L943.4 376.3 L945.5 378.4 L946.8 379.8 L948.9 378.8 L951.0 380.5 L953.1 381.6 L955.2 382.5 L957.2 379.8 L958.6 381.9 L960.4 384.6 L962.1 381.6 L964.2 381.9 L965.6 380.5 L967.0 376.3 L968.3 378.4 L969.7 383.9 L970.4 384.6 L971.5 379.1 L971.8 379.1" fill="none" stroke="#f5402f" stroke-width="1.5" stroke-linejoin="round" stroke-linecap="butt"/></svg>
<div class="yl" style="top:74.2px">130 000 ₽</div><div class="yl" style="top:103.2px">120 000 ₽</div><div class="yl" style="top:132.2px">110 000 ₽</div><div class="yl" style="top:161.2px">100 000 ₽</div><div class="yl" style="top:190.2px">90 000 ₽</div><div class="yl" style="top:219.2px">80 000 ₽</div><div class="yl" style="top:248.2px">70 000 ₽</div><div class="yl" style="top:277.2px">60 000 ₽</div><div class="yl" style="top:306.2px">50 000 ₽</div><div class="yl" style="top:335.2px">40 000 ₽</div><div class="yl" style="top:364.2px">30 000 ₽</div><div class="yl" style="top:393.2px">20 000 ₽</div>
<div class="xl" style="left:107px">2022</div><div class="xl" style="left:301.4px">2023</div><div class="xl" style="left:495.79999999999995px">2024</div><div class="xl" style="left:690.6px">2025</div><div class="xl" style="left:884.9px">2026</div>
<div class="cb" style="left:64px;background:#1b8a99"><svg width="16" height="16" viewBox="0 0 16 16"><path d="M3.6 8.2 L6.6 11.2 L12.4 5.2" fill="none" stroke="#111" stroke-width="2"/></svg></div><div class="lt" style="left:87.5px;letter-spacing:-0.12px">Factory New</div><div class="cb" style="left:204px;background:#7cb305"><svg width="16" height="16" viewBox="0 0 16 16"><path d="M3.6 8.2 L6.6 11.2 L12.4 5.2" fill="none" stroke="#111" stroke-width="2"/></svg></div><div class="lt" style="left:228.5px;letter-spacing:0px">Minimal Wear</div><div class="cb" style="left:354px;background:#e8c228"><svg width="16" height="16" viewBox="0 0 16 16"><path d="M3.6 8.2 L6.6 11.2 L12.4 5.2" fill="none" stroke="#111" stroke-width="2"/></svg></div><div class="lt" style="left:378.5px;letter-spacing:0px">Field-Tested</div><div class="cb" style="left:493px;background:#ff8a2b"><svg width="16" height="16" viewBox="0 0 16 16"><path d="M3.6 8.2 L6.6 11.2 L12.4 5.2" fill="none" stroke="#111" stroke-width="2"/></svg></div><div class="lt" style="left:517.5px;letter-spacing:-0.28px">Well-Worn</div><div class="cb" style="left:617px;background:#f5402f"><svg width="16" height="16" viewBox="0 0 16 16"><path d="M3.6 8.2 L6.6 11.2 L12.4 5.2" fill="none" stroke="#111" stroke-width="2"/></svg></div><div class="lt" style="left:641.2px;letter-spacing:-0.12px">Battle-Scarred</div>
<div class="tg"><div class="kn"></div></div>
<div class="lt" style="left:910px">Souvenir</div>
</body></html>
